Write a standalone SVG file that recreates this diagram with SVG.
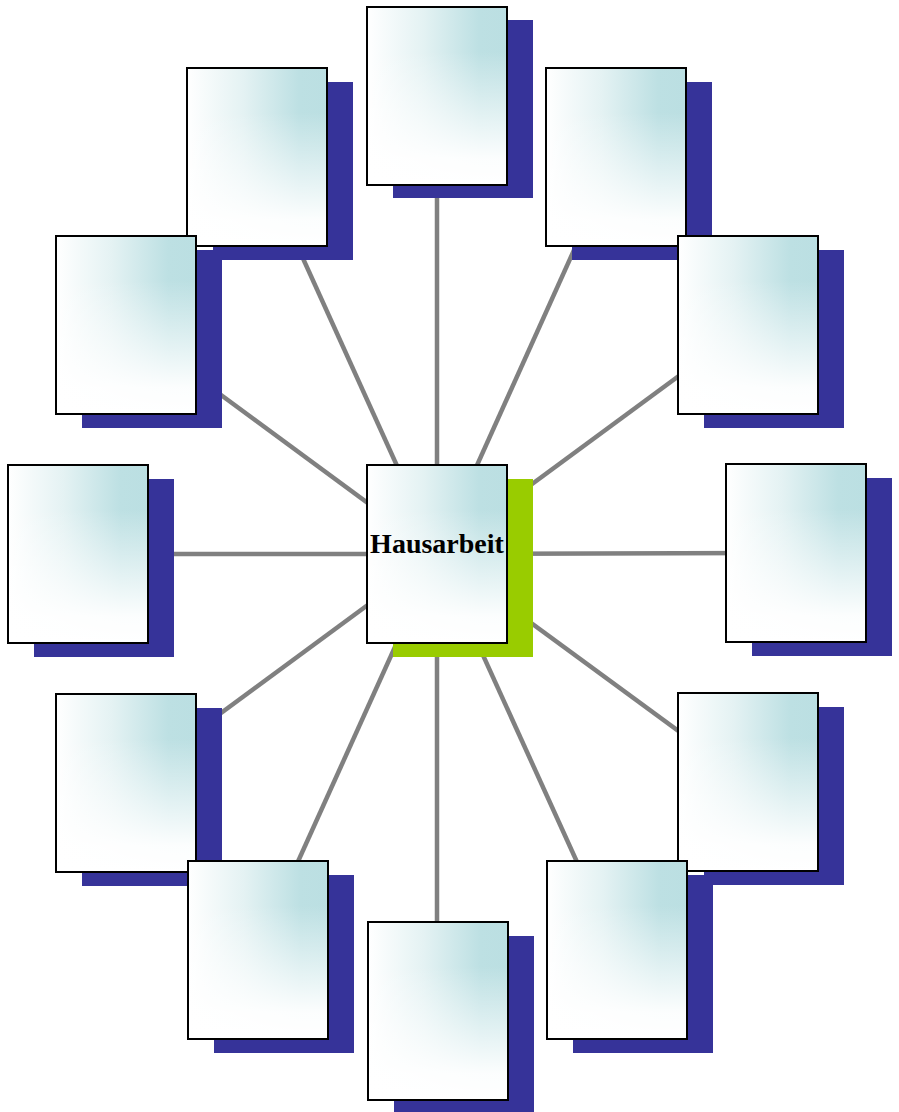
<svg xmlns="http://www.w3.org/2000/svg" xmlns:xlink="http://www.w3.org/1999/xlink" width="899" height="1112" viewBox="0 0 899 1112">
<style>
.conn line{stroke:#808080;stroke-width:4.5}
.sh{fill:#363399}
.shg{fill:#99cc00}
.lbl{font-family:"Liberation Serif","Times New Roman",serif;font-weight:bold;font-size:28px;fill:#000}
</style>
<defs>
<linearGradient id="gh" x1="0" y1="0" x2="1" y2="0">
<stop offset="0" stop-color="#ffffff"/>
<stop offset="0.4" stop-color="#e4f2f3"/>
<stop offset="0.8" stop-color="#bde0e3"/>
<stop offset="1" stop-color="#bbdfe2"/>
</linearGradient>
<linearGradient id="gv" x1="0" y1="0" x2="0" y2="1">
<stop offset="0" stop-color="#ffffff" stop-opacity="0"/>
<stop offset="0.25" stop-color="#ffffff" stop-opacity="0"/>
<stop offset="0.85" stop-color="#ffffff" stop-opacity="0.95"/>
<stop offset="1" stop-color="#ffffff" stop-opacity="1"/>
</linearGradient>
<symbol id="page" overflow="visible">
<rect x="0" y="0" width="140" height="178" fill="url(#gh)"/>
<rect x="0" y="0" width="140" height="178" fill="url(#gv)"/>
<rect x="0" y="0" width="140" height="178" fill="none" stroke="#000" stroke-width="2"/>
</symbol>
</defs>
<rect width="899" height="1112" fill="#fff"/>
<g id="connectors" class="conn">
<line x1="437" y1="554" x2="437" y2="96"/>
<line x1="437" y1="554" x2="616" y2="157"/>
<line x1="437" y1="554" x2="257" y2="157"/>
<line x1="437" y1="554" x2="126" y2="325"/>
<line x1="437" y1="554" x2="748" y2="325"/>
<line x1="437" y1="554" x2="78" y2="554"/>
<line x1="437" y1="554" x2="796" y2="553"/>
<line x1="437" y1="554" x2="126" y2="783"/>
<line x1="437" y1="554" x2="748" y2="782"/>
<line x1="437" y1="554" x2="258" y2="950"/>
<line x1="437" y1="554" x2="617" y2="950"/>
<line x1="437" y1="554" x2="437" y2="1011"/>
</g>
<g id="n1"><rect class="sh" x="393" y="20" width="140" height="178"/><use xlink:href="#page" x="367" y="7"/></g>
<g id="n2"><rect class="sh" x="572" y="82" width="140" height="178"/><use xlink:href="#page" x="546" y="68"/></g>
<g id="n3"><rect class="sh" x="213" y="82" width="140" height="178"/><use xlink:href="#page" x="187" y="68"/></g>
<g id="n4"><rect class="sh" x="82" y="250" width="140" height="178"/><use xlink:href="#page" x="56" y="236"/></g>
<g id="n5"><rect class="sh" x="704" y="250" width="140" height="178"/><use xlink:href="#page" x="678" y="236"/></g>
<g id="center"><rect class="shg" x="393" y="479" width="140" height="178"/><use xlink:href="#page" x="367" y="465"/><text class="lbl" x="437" y="553" text-anchor="middle">Hausarbeit</text></g>
<g id="n6"><rect class="sh" x="34" y="479" width="140" height="178"/><use xlink:href="#page" x="8" y="465"/></g>
<g id="n7"><rect class="sh" x="752" y="478" width="140" height="178"/><use xlink:href="#page" x="726" y="464"/></g>
<g id="n8"><rect class="sh" x="82" y="708" width="140" height="178"/><use xlink:href="#page" x="56" y="694"/></g>
<g id="n9"><rect class="sh" x="704" y="707" width="140" height="178"/><use xlink:href="#page" x="678" y="693"/></g>
<g id="n10"><rect class="sh" x="214" y="875" width="140" height="178"/><use xlink:href="#page" x="188" y="861"/></g>
<g id="n11"><rect class="sh" x="573" y="875" width="140" height="178"/><use xlink:href="#page" x="547" y="861"/></g>
<g id="n12"><rect class="sh" x="394" y="936" width="140" height="178"/><use xlink:href="#page" x="368" y="922"/></g>
</svg>
